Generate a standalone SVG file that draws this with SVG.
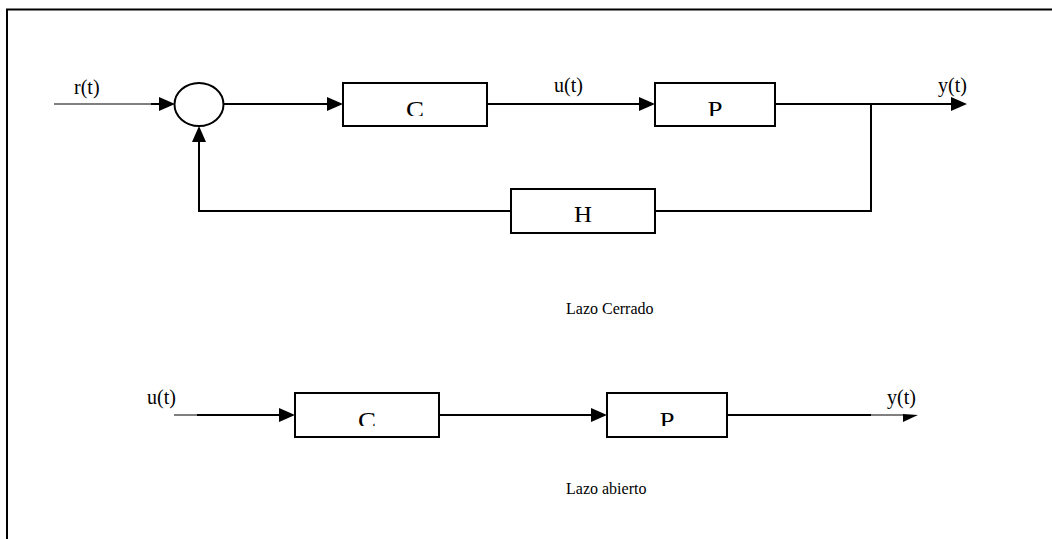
<svg xmlns="http://www.w3.org/2000/svg" width="1052" height="539" viewBox="0 0 1052 539">
  <defs>
    <style>
      .ln{stroke:#000;stroke-width:2;fill:none}
      .thin{stroke:#000;stroke-width:1;fill:none}
      .box{fill:#fff;stroke:#000;stroke-width:2}
      .txt{font-family:"Liberation Serif","Times New Roman",serif;font-size:20px;fill:#000}
      .blk{font-size:23px;text-anchor:middle}
      .cap{font-size:16px}
    </style>
    <marker id="ah" viewBox="0 0 16 14" refX="8" refY="7" markerWidth="16" markerHeight="14" markerUnits="userSpaceOnUse" orient="auto">
      <path d="M0,0 L16,7 L0,14 Z" fill="#000"/>
    </marker>
    <clipPath id="clipTop"><rect x="0" y="0" width="1052" height="116"/></clipPath>
    <clipPath id="clipBot"><rect x="0" y="300" width="1052" height="126"/></clipPath>
  </defs>
  <rect width="1052" height="539" fill="#fff"/>

  <!-- frame -->
  <path class="ln" d="M7,539 V9.5 H1052"/>

  <!-- connectors -->
  <g id="connectors">
    <!-- closed loop -->
    <path class="thin" d="M54,104 H152"/>
    <path class="ln" d="M151,104 H167" marker-end="url(#ah)"/>
    <path class="ln" d="M224,104 H335" marker-end="url(#ah)"/>
    <path class="ln" d="M487,104 H647" marker-end="url(#ah)"/>
    <path class="ln" d="M775,104 H959" marker-end="url(#ah)"/>
    <path class="ln" d="M871,104 V211 H655"/>
    <path class="ln" d="M511,211 H199 V134" marker-end="url(#ah)"/>
    <!-- open loop -->
    <path class="thin" d="M174,415 H198"/>
    <path class="ln" d="M197,415 H287" marker-end="url(#ah)"/>
    <path class="ln" d="M439,415 H599" marker-end="url(#ah)"/>
    <path class="ln" d="M727,415 H871"/>
    <path class="thin" d="M870,415 H904"/>
    <path d="M903,414 L918,415 L903,422 Z" fill="#000"/>
  </g>

  <!-- closed loop nodes -->
  <g id="sum">
    <ellipse cx="199" cy="104.5" rx="24.5" ry="21.5" fill="#fff" stroke="#000" stroke-width="2"/>
  </g>
  <g id="c1">
    <rect class="box" x="343" y="83" width="144" height="43"/>
    <text class="txt blk" x="415" y="117" textLength="18" lengthAdjust="spacingAndGlyphs" clip-path="url(#clipTop)">C</text>
  </g>
  <g id="p1">
    <rect class="box" x="655" y="83" width="120" height="43"/>
    <text class="txt blk" x="715" y="117" textLength="15" lengthAdjust="spacingAndGlyphs" clip-path="url(#clipTop)">P</text>
  </g>
  <g id="h1">
    <rect class="box" x="511" y="189" width="144" height="44"/>
    <text class="txt blk" x="583" y="222" textLength="18" lengthAdjust="spacingAndGlyphs">H</text>
  </g>

  <!-- open loop nodes -->
  <g id="c2">
    <rect class="box" x="295" y="393" width="144" height="44"/>
    <text class="txt blk" x="367" y="428" textLength="18" lengthAdjust="spacingAndGlyphs" clip-path="url(#clipBot)">C</text>
  </g>
  <g id="p2">
    <rect class="box" x="607" y="393" width="120" height="44"/>
    <text class="txt blk" x="667" y="428" textLength="15" lengthAdjust="spacingAndGlyphs" clip-path="url(#clipBot)">P</text>
  </g>

  <!-- signal labels -->
  <g id="labels">
    <text class="txt" x="74" y="94">r(t)</text>
    <text class="txt" x="554" y="92">u(t)</text>
    <text class="txt" x="938" y="92">y(t)</text>
    <text class="txt" x="147" y="404">u(t)</text>
    <text class="txt" x="887" y="404">y(t)</text>
    <text class="txt cap" x="566" y="314">Lazo Cerrado</text>
    <text class="txt cap" x="566" y="494">Lazo abierto</text>
  </g>
</svg>
